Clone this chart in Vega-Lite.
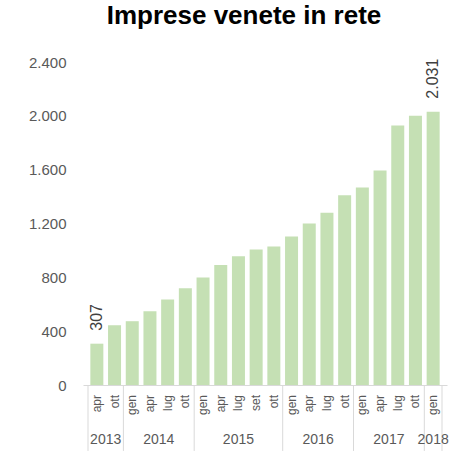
{
  "$schema": "https://vega.github.io/schema/vega-lite/v6.json",
  "autosize": {"type": "none"},
  "width": 364,
  "height": 323,
  "padding": {"left": 83, "top": 62, "right": 6, "bottom": 66},
  "config": {
    "locale": {"number": {"decimal": ",", "thousands": ".", "grouping": [3], "currency": ["€", ""]}},
    "view": {"stroke": null},
    "font": "Liberation Sans"
  },
  "title": {
    "text": "Imprese venete in rete",
    "fontSize": 26,
    "fontWeight": "bold",
    "font": "Liberation Sans",
    "color": "#000000",
    "anchor": "middle",
    "dx": -21,
    "offset": 26
  },
  "datasets": {
    "bars": [
      {"idx": 1, "year": "2013", "month": "apr", "value": 307},
      {"idx": 2, "year": "2013", "month": "ott", "value": 444},
      {"idx": 3, "year": "2014", "month": "gen", "value": 474},
      {"idx": 4, "year": "2014", "month": "apr", "value": 548},
      {"idx": 5, "year": "2014", "month": "lug", "value": 635},
      {"idx": 6, "year": "2014", "month": "ott", "value": 718},
      {"idx": 7, "year": "2015", "month": "gen", "value": 798},
      {"idx": 8, "year": "2015", "month": "apr", "value": 891},
      {"idx": 9, "year": "2015", "month": "lug", "value": 956},
      {"idx": 10, "year": "2015", "month": "set", "value": 1007},
      {"idx": 11, "year": "2015", "month": "ott", "value": 1030},
      {"idx": 12, "year": "2016", "month": "gen", "value": 1104},
      {"idx": 13, "year": "2016", "month": "apr", "value": 1200},
      {"idx": 14, "year": "2016", "month": "lug", "value": 1279},
      {"idx": 15, "year": "2016", "month": "ott", "value": 1410},
      {"idx": 16, "year": "2017", "month": "gen", "value": 1467},
      {"idx": 17, "year": "2017", "month": "apr", "value": 1593},
      {"idx": 18, "year": "2017", "month": "lug", "value": 1928},
      {"idx": 19, "year": "2017", "month": "ott", "value": 2000},
      {"idx": 20, "year": "2018", "month": "gen", "value": 2031}
    ],
    "years": [
      {"year": "2013", "mid": 1.5},
      {"year": "2014", "mid": 4.5},
      {"year": "2015", "mid": 9},
      {"year": "2016", "mid": 13.5},
      {"year": "2017", "mid": 17.5},
      {"year": "2018", "mid": 20}
    ],
    "seps": [
      {"pos": 0.5}, {"pos": 2.5}, {"pos": 6.5}, {"pos": 11.5}, {"pos": 15.5}, {"pos": 19.5}, {"pos": 20.5}
    ]
  },
  "layer": [
    {
      "data": {"name": "bars"},
      "mark": {"type": "bar", "size": 13, "color": "#c5e0b4"},
      "encoding": {
        "x": {
          "field": "idx", "type": "quantitative",
          "scale": {"domain": [0.5, 20.5], "nice": false, "zero": false},
          "axis": {
            "title": null,
            "labels": false,
            "ticks": false,
            "grid": false,
            "domainColor": "#d9d9d9"
          }
        },
        "y": {
          "field": "value", "type": "quantitative",
          "scale": {"domain": [0, 2400], "nice": false},
          "axis": {
            "title": null,
            "values": [0, 400, 800, 1200, 1600, 2000, 2400],
            "labelExpr": "format(datum.value, ',')",
            "domain": false,
            "ticks": false,
            "grid": false,
            "labelFontSize": 15,
            "labelColor": "#595959",
            "labelPadding": 17
          }
        }
      }
    },
    {
      "data": {"name": "bars"},
      "transform": [{"filter": "datum.idx == 1 || datum.idx == 20"}],
      "mark": {"type": "text", "angle": 270, "align": "left", "baseline": "middle", "dx": 13, "fontSize": 16, "color": "#404040"},
      "encoding": {
        "x": {"field": "idx", "type": "quantitative"},
        "y": {"field": "value", "type": "quantitative"},
        "text": {"field": "value", "type": "quantitative", "format": ","}
      }
    },
    {
      "data": {"name": "bars"},
      "mark": {"type": "text", "angle": 270, "align": "right", "baseline": "middle", "fontSize": 12, "color": "#595959"},
      "encoding": {
        "x": {"field": "idx", "type": "quantitative"},
        "y": {"datum": -74},
        "text": {"field": "month"}
      }
    },
    {
      "data": {"name": "seps"},
      "mark": {"type": "rule", "color": "#d9d9d9", "strokeWidth": 1},
      "encoding": {
        "x": {"field": "pos", "type": "quantitative"},
        "y": {"datum": 0},
        "y2": {"datum": -490}
      }
    },
    {
      "data": {"name": "years"},
      "mark": {"type": "text", "fontSize": 14, "color": "#595959", "baseline": "middle"},
      "encoding": {
        "x": {"field": "mid", "type": "quantitative"},
        "y": {"datum": -405},
        "text": {"field": "year"}
      }
    }
  ]
}
